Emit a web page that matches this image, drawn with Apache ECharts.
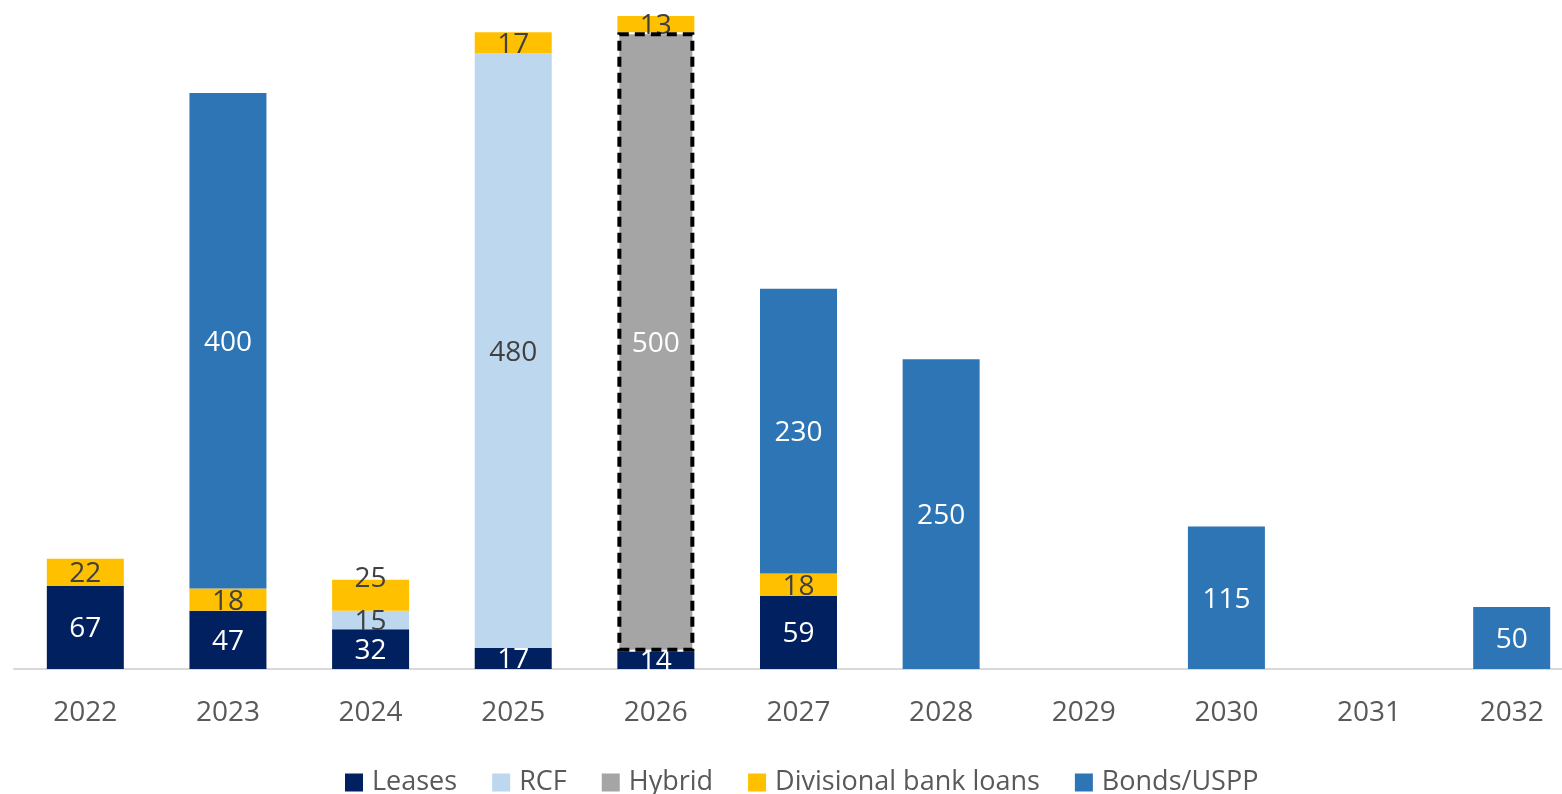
<!DOCTYPE html>
<html>
<head>
<meta charset="utf-8">
<title>Debt maturity profile</title>
<script src="https://cdn.jsdelivr.net/npm/echarts@6/dist/echarts.min.js"></script>
<style>
  html, body { margin: 0; padding: 0; background: #ffffff; overflow: hidden; }
  /* The plot area runs a little past the right edge of the page */
  #chart { width: 1583px; height: 794px; }
</style>
</head>
<body>
<div id="chart"></div>
<script>
// Maturity years on the category axis
const years = ['2022', '2023', '2024', '2025', '2026', '2027', '2028', '2029', '2030', '2031', '2032'];

// Amounts per instrument and year (null = nothing maturing)
const leases     = [67, 47, 32, 17, 14, 59, null, null, null, null, null];
const rcf        = [null, null, 15, 480, null, null, null, null, null, null, null];
const hybrid     = [null, null, null, null, 500, null, null, null, null, null, null];
const divisional = [22, 18, 25, 17, 13, 18, null, null, null, null, null];
const bonds      = [null, 400, null, null, null, 230, 250, null, 115, null, 50];

const FONT = '"Open Sans", "Liberation Sans", sans-serif';
const DARK_TEXT = '#404040';

function labelOf(color) {
  return {
    show: true,
    position: 'inside',
    offset: [0, 2],
    color: color,
    fontFamily: FONT,
    fontSize: 28,
    formatter: p => (p.value == null ? '' : String(p.value))
  };
}

function barSeries(name, values, color, textColor, extra) {
  return Object.assign({
    name: name,
    type: 'bar',
    stack: 'maturity',
    barWidth: 77,
    data: values.map(v => v),
    itemStyle: { color: color },
    label: labelOf(textColor),
    emphasis: { disabled: true }
  }, extra || {});
}

// Lift the crowded 2024 top label above its small segment
const divisionalData = divisional.map((v, i) =>
  i === 2 ? { value: v, label: { offset: [0, -16] } } : v
);

const option = {
  animation: false,
  backgroundColor: '#ffffff',
  grid: { left: 14, right: 0, top: 0, bottom: 125, containLabel: false },
  legend: {
    left: 345,
    top: 769,
    padding: 0,
    itemWidth: 18,
    itemHeight: 18,
    itemGap: 35,
    icon: 'rect',
    textStyle: { fontFamily: FONT, fontSize: 27, color: '#595959', padding: [0, 0, 0, 4] },
    data: [
      'Leases',
      'RCF',
      { name: 'Hybrid', itemStyle: { borderWidth: 0 } },
      'Divisional bank loans',
      'Bonds/USPP'
    ]
  },
  xAxis: {
    type: 'category',
    data: years,
    axisLine: { show: true, lineStyle: { color: '#d9d9d9', width: 2 } },
    axisTick: { show: false },
    axisLabel: { fontFamily: FONT, fontSize: 28, color: '#595959', margin: 30 }
  },
  yAxis: {
    type: 'value',
    min: 0,
    max: 540,
    show: false,
    splitLine: { show: false }
  },
  series: [
    barSeries('Leases', leases, '#002060', '#ffffff'),
    barSeries('RCF', rcf, '#BDD7EE', DARK_TEXT),
    barSeries('Hybrid', hybrid, '#A5A5A5', '#ffffff', {
      z: 3,
      itemStyle: {
        color: '#A5A5A5',
        borderColor: '#000000',
        borderWidth: 4,
        borderType: [10, 6]
      }
    }),
    barSeries('Divisional bank loans', divisionalData, '#FFC000', DARK_TEXT),
    barSeries('Bonds/USPP', bonds, '#2E75B6', '#ffffff')
  ]
};

const chart = echarts.init(document.getElementById('chart'), null, { renderer: 'canvas' });
chart.setOption(option);
</script>
</body>
</html>
